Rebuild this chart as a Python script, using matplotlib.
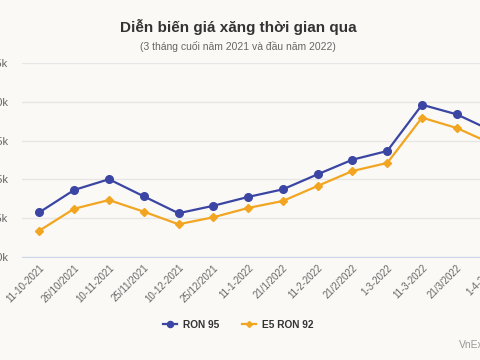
import matplotlib
matplotlib.use("Agg")
import matplotlib.pyplot as plt
from matplotlib.ticker import FuncFormatter

plt.rcParams["font.family"] = ["Liberation Sans", "DejaVu Sans"]

dates = ["11-10-2021", "26/10/2021", "10-11-2021", "25/11/2021", "10-12-2021",
         "25/12/2021", "11-1-2022", "21/1/2022", "11-2-2022", "21/2/2022",
         "1-3-2022", "11-3-2022", "21/3/2022", "1-4-2022"]
ron95 = [22880, 24320, 25010, 23910, 22820, 23300, 23870, 24360, 25330,
         26270, 26830, 29810, 29190, 28140]
e5ron92 = [21700, 23110, 23670, 22920, 22110, 22560, 23160, 23610, 24580,
           25540, 26060, 28980, 28310, 27300]
yticks = [20000, 22500, 25000, 27500, 30000, 32500]

bg = "#faf9f6"
blue = "#3b45a3"
orange = "#f2a520"

fig = plt.figure(figsize=(4.8, 3.6), dpi=100, facecolor=bg)
# axes runs past the right edge, like the cropped original
ax = fig.add_axes([22/480, 1 - 257/360, 487/480, 194/360], facecolor=bg)

x = list(range(len(dates)))
ax.plot(x, ron95, color=blue, lw=1.6, marker="o", ms=5.5, label="RON 95", clip_on=False)
ax.plot(x, e5ron92, color=orange, lw=1.6, marker="D", ms=3.8, label="E5 RON 92", clip_on=False)

ax.set_xlim(-0.5, len(dates) - 0.5)
ax.set_ylim(20000, 32500)
ax.set_yticks(yticks)
ax.yaxis.set_major_formatter(FuncFormatter(lambda v, p: ("%g" % (v / 1000)) + "k"))
ax.grid(axis="y", color="#e6e6e6", lw=1)
ax.set_axisbelow(True)
for s in ["top", "right", "left"]:
    ax.spines[s].set_visible(False)
ax.spines["bottom"].set_color("#ccd6eb")
ax.tick_params(axis="y", length=0, pad=10, labelsize=8, labelcolor="#666666")
ax.tick_params(axis="x", length=0, pad=4, labelsize=7, labelcolor="#666666")
ax.set_xticks(x)
ax.set_xticklabels(dates, rotation=45, ha="right", rotation_mode="anchor")

fig.text(238/480, 1 - 27/360, "Diễn biến giá xăng thời gian qua", ha="center", va="center",
         fontsize=11, fontweight="bold", color="#333333")
fig.text(238/480, 1 - 47/360, "(3 tháng cuối năm 2021 và đầu năm 2022)", ha="center", va="center",
         fontsize=7.5, color="#666666")
leg = fig.legend(loc="center", bbox_to_anchor=(238/480, 1 - 325/360), ncol=2, frameon=False,
                 prop={"weight": "bold", "size": 7.3}, labelcolor="#333333", handlelength=1.4,
                 columnspacing=2.2, handletextpad=0.6, markerscale=0.8)
fig.text(459/480, 1 - 345/360, "VnExpress", ha="left", va="center", fontsize=7.5, color="#999999")

fig.savefig("out.png", dpi=100, facecolor=bg)
